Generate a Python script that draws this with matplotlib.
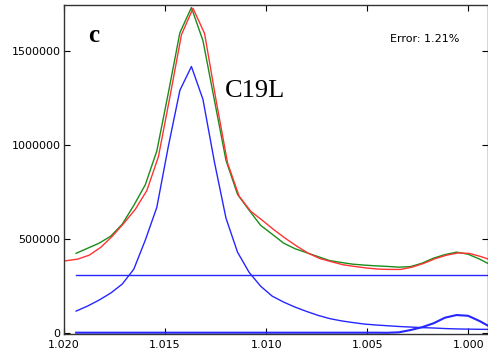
import matplotlib
matplotlib.use("Agg")
import matplotlib.pyplot as plt

# x grid (ppm-like axis, inverted)
x_fit = [1.01940, 1.01883, 1.01826, 1.01769, 1.01712, 1.01655, 1.01598, 1.01541,
         1.01484, 1.01427, 1.01370, 1.01313, 1.01256, 1.01199, 1.01142, 1.01085,
         1.01028, 1.00971, 1.00914, 1.00857, 1.00800, 1.00743, 1.00686, 1.00629,
         1.00572, 1.00515, 1.00458, 1.00401, 1.00344, 1.00287, 1.00230, 1.00173,
         1.00116, 1.00059, 1.00002, 0.99945, 0.99888]

x_data = [1.02005, 1.01932, 1.01875, 1.01818, 1.01761, 1.01704, 1.01647, 1.01590,
          1.01533, 1.01476, 1.01419, 1.01362, 1.01305, 1.01248, 1.01191, 1.01134,
          1.01077, 1.01020, 1.00963, 1.00906, 1.00849, 1.00792, 1.00735, 1.00678,
          1.00621, 1.00564, 1.00507, 1.00450, 1.00393, 1.00336, 1.00279, 1.00222,
          1.00165, 1.00108, 1.00051, 0.99994, 0.99937, 0.99880]

# measured spectrum (red)
data_red = [383000, 394000, 415000, 457000, 516000, 585000, 660000, 760000,
            940000, 1260000, 1590000, 1730000, 1596000, 1240000, 905000, 729000,
            649000, 601000, 551000, 505000, 463000, 425000, 397000, 380000,
            364000, 355000, 347000, 341000, 339000, 339000, 351000, 371000,
            396000, 415000, 427000, 424000, 407000, 386000]

# total fit (green)
fit_green = [425000, 452000, 479000, 516000, 580000, 680000, 790000, 970000,
             1280000, 1600000, 1734000, 1558000, 1239000, 920000, 739000, 655000,
             574000, 527000, 479000, 449000, 428000, 407000, 386000, 376000,
             367000, 362000, 358000, 355000, 351000, 354000, 372000, 399000,
             418000, 431000, 420000, 394000, 362000]

# fit components (blue)
comp_main = [117000, 144000, 176000, 213000, 261000, 340000, 495000, 670000,
             995000, 1293000, 1420000, 1245000, 910000, 612000, 431000, 324000,
             250000, 197000, 165000, 138000, 115000, 94000, 77000, 65000,
             56000, 48000, 43000, 39000, 35000, 32000, 29000, 27000,
             24000, 22000, 21000, 20000, 19500]

comp_small = [2000, 2000, 2000, 2000, 2000, 2000, 2000, 2000,
              2000, 2000, 2000, 2000, 2000, 2000, 2000, 2000,
              2000, 2000, 2000, 2000, 2000, 2000, 2000, 2000,
              2000, 2000, 2000, 1500, 4000, 16000, 31000, 52000,
              82000, 96000, 92000, 64000, 30000]

baseline_level = 308500

x_ticks = [1.020, 1.015, 1.010, 1.005, 1.000]
y_ticks = [0, 500000, 1000000, 1500000]

fig = plt.figure(figsize=(4.89, 3.58), dpi=100)
ax = fig.add_axes([64 / 489, 24 / 358, 424.5 / 489, 328.5 / 358])

ax.plot(x_fit, comp_main, color=(0.15, 0.15, 1.0), lw=1.0)
ax.plot(x_fit, [baseline_level] * len(x_fit), color=(0.15, 0.15, 1.0), lw=1.0)
ax.plot(x_fit, comp_small, color=(0.15, 0.15, 1.0), lw=1.5)
ax.plot(x_fit, fit_green, color=(0.1, 0.55, 0.1), lw=1.0)
ax.plot(x_data, data_red, color=(1.0, 0.2, 0.2), lw=1.0)

ax.set_xlim(1.020, 0.99901)
ax.set_ylim(-5000, 1745000)
ax.set_xticks(x_ticks)
ax.set_xticklabels([f"{v:.3f}" for v in x_ticks])
ax.set_yticks(y_ticks)
ax.set_yticklabels([str(v) for v in y_ticks])

ax.tick_params(direction="in", top=True, right=True, length=4, width=0.8,
               labelsize=8, colors="black")
ax.tick_params(axis="x", pad=4)
ax.tick_params(axis="y", pad=2.5)
for s in ax.spines.values():
    s.set_linewidth(1.0)
    s.set_color("#333333")

ax.text(0.0565, 0.889, "c", transform=ax.transAxes, fontsize=18,
        fontweight="bold", family="Liberation Serif", ha="left", va="baseline")
ax.text(0.379, 0.7215, "C19L", transform=ax.transAxes, fontsize=19,
        family="Liberation Serif", ha="left", va="baseline")
ax.text(0.768, 0.889, "Error: 1.21%", transform=ax.transAxes, fontsize=8,
        family="DejaVu Sans", ha="left", va="baseline")

fig.savefig("out.png", dpi=100)
